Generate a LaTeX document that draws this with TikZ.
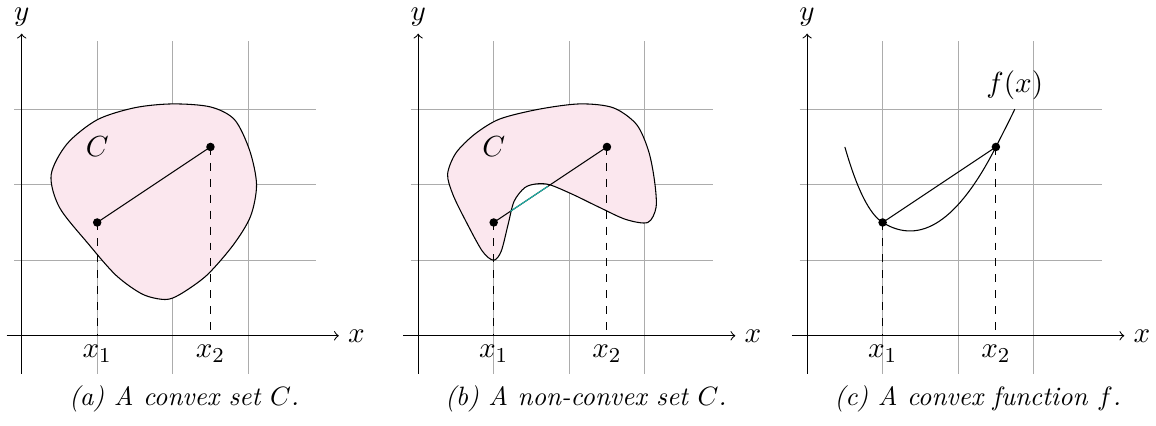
\documentclass[tikz,border=0pt]{standalone}
\usetikzlibrary{calc}
\definecolor{setpink}{RGB}{251,231,238}
\definecolor{gapteal}{RGB}{30,180,170}
\tikzset{
	gridline/.style={gray!65},
	axisline/.style={->},
	dropline/.style={dashed},
	ylabel/.style={inner sep=0pt, anchor=base},
	caption/.style={font=\normalsize\itshape},
}
\begin{document}
\begin{tikzpicture}[font=\fontsize{10.95}{13.6}\selectfont]
	\useasboundingbox (-0.287,-1.183) rectangle (15.02,4.446);
	% grid of the three panels
	\foreach \dx in {0,5.25,10.4}{
		\begin{scope}[xshift=\dx cm]
			\draw[gridline] (-0.1,-0.5) grid (3.9,3.9);
		\end{scope}
	}
	% (a) convex set
	\begin{scope}
		\draw[fill=setpink] plot[smooth cycle] coordinates {(0.39,2.13) (0.6,2.54) (1.0,2.86) (1.5,3.02) (2.0,3.07) (2.5,3.03) (2.82,2.86) (3.02,2.45) (3.11,2.0) (3.03,1.58) (2.8,1.2) (2.45,0.8) (2.1,0.55) (1.9,0.48) (1.6,0.55) (1.25,0.8) (0.88,1.22) (0.5,1.7)};
		\draw[axisline] (-0.2,0) -- (4.2,0) node[right] (ax) {$x$};
		\draw[axisline] (0,-0.5) -- (0,4);
		\node[ylabel] (ay) at (0,4.17) {$y$};
		\coordinate (pa1) at (1,1.5);
		\coordinate (pa2) at (2.5,2.5);
		\draw (pa1) -- (pa2);
		\draw[dropline] (pa1) -- (pa1 |- 0,0) node[below] (la1) {$x_1$};
		\draw[dropline] (pa2) -- (pa2 |- 0,0) node[below] (la2) {$x_2$};
		\fill (pa1) circle (1.6pt) (pa2) circle (1.6pt);
		\node (ca) at (1,2.5) {$C$};
		\node[caption] (capa) at (2.15,-0.83) {(a) A convex set $C$.};
	\end{scope}
	% (b) non-convex set
	\begin{scope}[xshift=5.25cm]
		\draw[fill=setpink] plot[smooth cycle] coordinates {(0.39,2.14) (0.5,2.42) (0.75,2.67) (1.08,2.87) (1.6,3.0) (2.14,3.07) (2.58,3.02) (2.89,2.8) (3.05,2.45) (3.13,2.05) (3.15,1.7) (3.04,1.5) (2.75,1.54) (2.4,1.7) (2.05,1.87) (1.74,2.0) (1.56,2.01) (1.41,1.96) (1.27,1.78) (1.19,1.47) (1.1,1.12) (1,1) (0.85,1.12) (0.63,1.52) (0.46,1.87)};
		\draw[axisline] (-0.2,0) -- (4.2,0) node[right] (bx) {$x$};
		\draw[axisline] (0,-0.5) -- (0,4);
		\node[ylabel] (by) at (0,4.17) {$y$};
		\coordinate (pb1) at (1,1.5);
		\coordinate (pb2) at (2.5,2.5);
		\draw (pb1) -- (pb2);
		\draw[gapteal] ($(pb1)!0.147!(pb2)$) -- ($(pb1)!0.477!(pb2)$);
		\draw[dropline] (pb1) -- (pb1 |- 0,0) node[below] (lb1) {$x_1$};
		\draw[dropline] (pb2) -- (pb2 |- 0,0) node[below] (lb2) {$x_2$};
		\fill (pb1) circle (1.6pt) (pb2) circle (1.6pt);
		\node (cb) at (1,2.5) {$C$};
		\node[caption] (capb) at (2.22,-0.83) {(b) A non-convex set $C$.};
	\end{scope}
	% (c) convex function
	\begin{scope}[xshift=10.4cm]
		\coordinate (pc1) at (1,1.5);
		\coordinate (pc2) at (2.5,2.5);
		\draw (0.5,2.5) .. controls (0.667,1.917) and (0.833,1.604) .. (pc1)
			.. controls (1.5,1.19) and (2.0,1.52) .. (pc2)
			.. controls (2.583,2.664) and (2.667,2.825) .. (2.75,3) node[above] (fc) {$f(x)$};
		\draw[axisline] (-0.2,0) -- (4.2,0) node[right] (cx) {$x$};
		\draw[axisline] (0,-0.5) -- (0,4);
		\node[ylabel] (cy) at (0,4.17) {$y$};
		\draw (pc1) -- (pc2);
		\draw[dropline] (pc1) -- (pc1 |- 0,0) node[below] (lc1) {$x_1$};
		\draw[dropline] (pc2) -- (pc2 |- 0,0) node[below] (lc2) {$x_2$};
		\fill (pc1) circle (1.6pt) (pc2) circle (1.6pt);
		\node[caption] (capc) at (2.26,-0.83) {(c) A convex function $f$.};
	\end{scope}
\end{tikzpicture}
\end{document}
